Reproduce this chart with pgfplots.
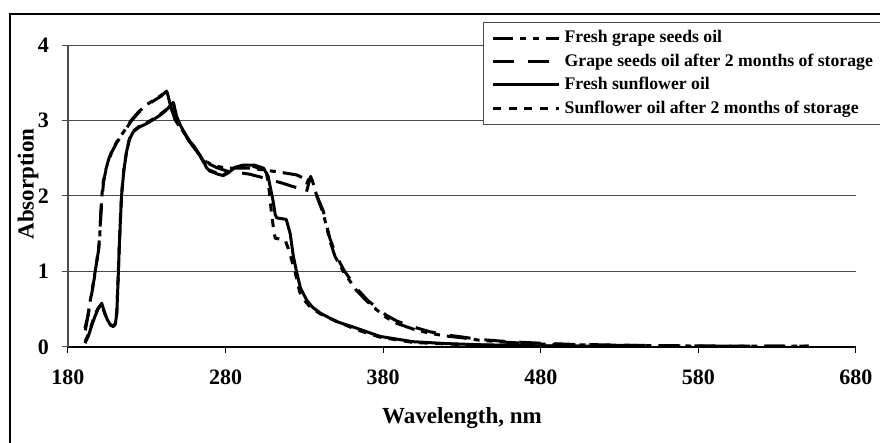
\documentclass[border=0pt]{standalone}
\usepackage{pgfplots}
\pgfplotsset{compat=1.18}
\usepackage{fontspec}
\setmainfont{Liberation Serif}
\begin{document}
\begin{tikzpicture}
\useasboundingbox (0pt,0pt) rectangle (440pt,221.5pt);
\draw[line width=0.6pt] (5pt,-1pt) -- (5pt,214.5pt) -- (441pt,214.5pt);
\begin{axis}[at={(34pt,48pt)}, anchor=south west, scale only axis, width=394pt, height=151pt,
 xmin=180, xmax=680, ymin=0, ymax=4,
 xtick={180,280,...,680}, ytick={0,1,2,3,4},
 axis x line=bottom, axis y line=left,
 x axis line style={-, black, line width=0.6pt},
 y axis line style={-, gray!60!black, line width=0.6pt},
 tick align=outside, major tick length=3pt,
 xtick style={black, line width=0.5pt}, ytick style={gray!60!black, line width=0.5pt},
 ymajorgrids, grid style={gray!60!black, line width=0.5pt},
 /pgf/number format/assume math mode=true,
 ticklabel style={font=\bfseries\fontsize{11}{12}\selectfont},
 xticklabel style={yshift=-5pt},
 yticklabel style={xshift=-3pt},
 xlabel={Wavelength, nm}, ylabel={Absorption},
 label style={font=\bfseries\fontsize{11.5}{12}\selectfont},
 xlabel style={at={(axis description cs:0.5,0)}, anchor=center, yshift=-35.5pt},
 ylabel style={at={(axis description cs:0,0.54)}, anchor=center, yshift=20pt},
 legend image code/.code={\draw[#1, line width=1.5pt] (0pt,0pt) -- (33pt,0pt);},
 legend style={at={(axis description cs:0.527,1.076)}, anchor=north west,
   draw=gray!60!black, fill=white,
   font=\bfseries\fontsize{8.85}{9}\selectfont, row sep=0pt,
   inner xsep=4pt, inner ysep=2pt, cells={anchor=west}},
 every axis plot/.append style={black, line width=1.5pt, line join=round},
]
% Fresh grape seeds oil
\addplot[dash pattern=on 10pt off 3.5pt on 3pt off 3.5pt on 3pt off 3.5pt] coordinates {
(190.8,0.25)(192.5,0.40)(194,0.60)(196,0.84)(198,1.10)(200,1.40)(201,1.85)(202,2.15)(204,2.35)(206,2.50)(208,2.60)(211,2.72)(215,2.84)(220,3.00)(225,3.12)(230,3.21)(235,3.28)(239,3.33)(242.6,3.40)(245,3.20)(248,3.02)(251,2.92)(254,2.83)(257,2.73)(260,2.66)(263,2.56)(266,2.47)(270,2.43)(275,2.39)(281,2.37)(288,2.37)(295,2.37)(306,2.34)(316,2.31)(325,2.28)(329,2.24)(331.5,2.17)(334,2.27)(336,2.14)(338,1.99)(342,1.77)(346,1.42)(349.4,1.20)(354.7,1.00)(363,0.75)(370,0.60)(376,0.49)(382,0.39)(389,0.31)(400,0.23)(410,0.18)(420,0.145)(431,0.12)(441,0.09)(460,0.06)(480,0.04)(500,0.03)(540,0.02)(580,0.012)(650,0.01)};
\addlegendentry{Fresh grape seeds oil}
% Grape seeds oil after 2 months
\addplot[dash pattern=on 10.5pt off 7pt] coordinates {
(191,0.22)(193,0.45)(195,0.70)(197,0.95)(199.5,1.30)(201,1.80)(202.5,2.18)(204,2.34)(206,2.49)(208,2.59)(211,2.71)(215,2.83)(220,2.99)(225,3.11)(230,3.20)(235,3.27)(239,3.32)(242.6,3.39)(245,3.19)(248,3.01)(251,2.91)(254,2.82)(257,2.72)(260,2.65)(263,2.55)(266,2.47)(270,2.42)(275,2.37)(281,2.33)(285,2.32)(295,2.29)(306,2.23)(316,2.17)(322,2.13)(327,2.10)(331,2.03)(334,2.26)(336,2.12)(338,2.00)(342,1.80)(346,1.45)(350,1.22)(355,1.02)(363,0.78)(370,0.62)(376,0.52)(382,0.42)(389,0.34)(400,0.26)(410,0.20)(420,0.16)(431,0.13)(441,0.10)(460,0.07)(480,0.05)(500,0.035)(540,0.022)(580,0.014)(650,0.01)};
\addlegendentry{Grape seeds oil after 2 months of storage}
% Fresh sunflower oil
\addplot[solid] coordinates {
(190.8,0.05)(193,0.15)(195,0.28)(197,0.40)(199,0.50)(201.4,0.58)(203,0.47)(205,0.36)(207,0.29)(208.7,0.27)(210,0.30)(211,0.45)(211.8,0.90)(212.5,1.30)(213.3,1.70)(214,2.01)(215.5,2.35)(217.2,2.59)(219,2.75)(221.4,2.85)(225,2.91)(230,2.96)(234,3.01)(238.4,3.07)(242,3.13)(246.8,3.24)(249,3.05)(251,2.95)(253,2.87)(257.4,2.72)(261,2.62)(264,2.53)(266,2.46)(268,2.37)(270,2.33)(275,2.29)(278.5,2.27)(282,2.31)(286,2.38)(291,2.41)(298,2.41)(304,2.37)(307,2.26)(308.5,2.10)(310,1.95)(311.5,1.75)(312.5,1.71)(318.5,1.69)(321,1.50)(323,1.20)(325,1.00)(327.5,0.78)(331.5,0.62)(335,0.53)(340,0.45)(350,0.34)(363,0.25)(378,0.14)(399,0.07)(420,0.045)(441,0.03)(480,0.015)(540,0.01)};
\addlegendentry{Fresh sunflower oil}
% Sunflower oil after 2 months
\addplot[dash pattern=on 4pt off 3.8pt] coordinates {
(190.8,0.07)(193,0.17)(195,0.30)(197,0.42)(199,0.51)(201.4,0.57)(203,0.46)(205,0.35)(207,0.29)(208.7,0.28)(210,0.31)(211,0.47)(211.8,0.92)(212.5,1.32)(213.3,1.72)(214,2.02)(215.5,2.36)(217.2,2.60)(219,2.76)(221.4,2.86)(225,2.92)(230,2.97)(234,3.02)(238.4,3.08)(242,3.14)(246.8,3.23)(249,3.04)(251,2.94)(253,2.86)(257.4,2.71)(261,2.61)(264,2.52)(266,2.45)(268,2.38)(270,2.34)(275,2.30)(278.5,2.28)(282,2.32)(286,2.37)(291,2.40)(298,2.39)(304,2.35)(306,2.30)(307.5,2.10)(309,1.80)(310.5,1.55)(311.5,1.44)(317.7,1.42)(319.5,1.32)(321,1.22)(324,1.00)(327,0.73)(330,0.62)(333.6,0.53)(340,0.44)(346,0.38)(355,0.30)(363,0.23)(378,0.13)(399,0.06)(420,0.04)(441,0.025)(480,0.012)(540,0.008)};
\addlegendentry{Sunflower oil after 2 months of storage}
\end{axis}
\end{tikzpicture}
\end{document}
